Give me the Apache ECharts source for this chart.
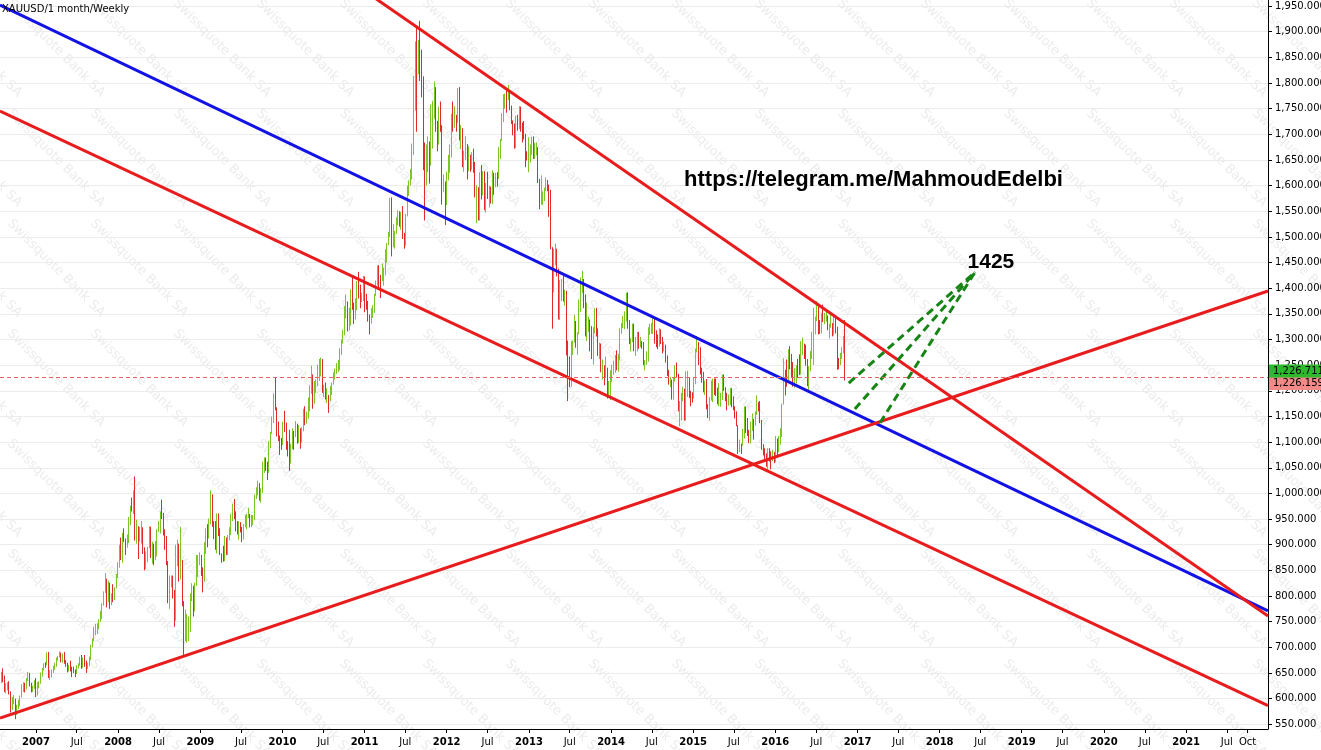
<!DOCTYPE html>
<html>
<head>
<meta charset="utf-8">
<script src="https://cdn.jsdelivr.net/npm/echarts@6/dist/echarts.min.js"></script>
<style>html,body{margin:0;padding:0;background:#fff}#c{width:1321px;height:750px}</style>
</head>
<body>
<div id="c"></div>
<script>
// ---- weekly candles [open, high, low, close]; each year starts at its first Monday ----
const yearStarts = {2006:'2006-07-24',2007:'2007-01-01',2008:'2008-01-07',2009:'2009-01-05',2010:'2010-01-04',2011:'2011-01-03',2012:'2012-01-02',2013:'2013-01-07',2014:'2014-01-06',2015:'2015-01-05',2016:'2016-01-04'};
const w2006 = [[617,640,612,633],[633,652,630,648],[648,659,632,640],[640,645,613,620],[620,630,610,622],[622,632,616,627],[627,634,608,612],[612,614,573,580],[580,603,578,597],[597,607,589,599],[599,600,560,574],[574,588,568,585],[585,598,580,596],[596,606,585,603],[603,628,602,623],[623,632,613,629],[629,631,612,620],[620,640,618,636],[636,652,634,649],[649,650,624,627],[627,631,612,621],[621,625,613,621],[621,636,619,632]];
const w2007 = [[632,640,603,609],[609,632,606,628],[628,634,620,631],[631,651,629,648],[648,660,643,658],[658,669,655,667],[667,671,660,665],[665,690,665,686],[686,691,640,645],[645,656,636,652],[652,657,641,653],[653,664,650,660],[660,670,656,664],[664,680,662,679],[679,683,674,681],[681,692,680,688],[688,690,671,678],[678,688,670,685],[685,691,668,670],[670,675,662,667],[667,670,651,656],[656,666,653,662],[662,674,653,657],[657,662,642,655],[655,662,650,652],[652,657,642,651],[651,665,648,664],[664,669,659,665],[665,682,664,680],[680,685,658,664],[664,680,660,679],[679,685,662,672],[672,674,650,663],[663,670,658,669],[669,682,663,680],[680,705,675,702],[702,717,700,713],[713,740,712,734],[734,746,724,743],[743,747,726,745],[745,755,735,753],[753,771,750,763],[763,786,755,783],[783,809,781,806],[806,845,806,832],[832,834,778,789],[789,830,788,817],[817,826,775,783],[783,805,782,802],[802,823,788,796],[796,817,792,816],[816,843,815,839],[839,866,835,859]];
const w2008 = [[859,900,855,896],[896,914,870,881],[881,923,865,912],[912,932,905,908],[908,912,880,905],[905,920,894,906],[906,954,903,946],[946,976,938,974],[974,992,965,972],[972,1006,960,1000],[1000,1033,908,920],[920,949,902,935],[935,936,872,912],[912,935,906,924],[924,946,902,927],[927,934,882,890],[890,895,850,857],[857,887,853,884],[884,896,866,896],[896,936,893,931],[931,935,874,887],[887,906,863,900],[900,902,860,872],[872,907,870,903],[903,930,877,928],[928,946,925,930],[930,965,922,961],[961,988,950,957],[957,962,918,927],[927,930,890,914],[914,917,860,864],[864,868,786,795],[795,840,775,829],[829,840,817,834],[834,840,795,805],[805,812,740,760],[760,900,752,870],[870,910,858,882],[882,902,828,832],[832,935,832,860],[860,870,780,787],[787,790,681,725],[725,774,712,730],[730,765,709,737],[737,760,712,740],[740,805,730,800],[800,825,790,815],[815,820,760,775],[775,826,770,823],[823,880,820,838],[838,880,837,875],[875,885,860,878]];
const w2009 = [[878,880,839,853],[853,856,807,840],[840,905,828,900],[900,932,882,928],[928,940,895,914],[914,951,912,941],[941,1006,940,996],[996,998,935,943],[943,946,911,940],[940,946,890,929],[929,961,883,953],[953,961,917,923],[923,932,880,881],[881,883,865,871],[871,898,867,868],[868,917,868,912],[912,914,880,884],[884,919,880,913],[913,934,909,929],[929,960,919,958],[958,980,946,978],[978,989,950,958],[958,965,926,934],[934,946,920,926],[926,946,910,939],[939,944,924,929],[929,935,905,913],[913,940,910,937],[937,958,934,952],[952,960,930,956],[956,972,952,956],[956,960,934,946],[946,958,934,953],[953,958,938,955],[955,998,948,995],[995,1012,989,1003],[1003,1025,996,1012],[1012,1020,986,992],[992,1010,982,1004],[1004,1062,1001,1049],[1049,1070,1040,1056],[1056,1070,1044,1055],[1055,1062,1026,1041],[1041,1102,1040,1096],[1096,1120,1088,1118],[1118,1150,1116,1142],[1142,1195,1137,1175],[1175,1227,1162,1166],[1166,1168,1111,1119],[1119,1140,1102,1111],[1111,1113,1075,1105],[1105,1108,1085,1096]];
const w2010 = [[1096,1140,1094,1138],[1138,1161,1120,1130],[1130,1138,1085,1090],[1090,1102,1072,1083],[1083,1124,1044,1065],[1065,1097,1058,1092],[1092,1127,1086,1120],[1120,1122,1085,1117],[1117,1141,1110,1133],[1133,1136,1097,1103],[1103,1133,1098,1124],[1124,1127,1087,1105],[1105,1129,1099,1125],[1125,1165,1121,1161],[1161,1170,1133,1137],[1137,1159,1136,1154],[1154,1187,1146,1180],[1180,1211,1160,1209],[1209,1249,1194,1227],[1227,1232,1165,1177],[1177,1219,1175,1212],[1212,1222,1196,1219],[1219,1251,1209,1222],[1222,1262,1219,1256],[1256,1265,1228,1256],[1256,1262,1196,1210],[1210,1212,1188,1210],[1210,1216,1183,1189],[1189,1205,1176,1190],[1190,1192,1157,1181],[1181,1209,1180,1204],[1204,1216,1192,1215],[1215,1236,1212,1227],[1227,1243,1222,1236],[1236,1254,1233,1246],[1246,1260,1237,1246],[1246,1283,1240,1275],[1275,1300,1270,1296],[1296,1319,1292,1317],[1317,1365,1308,1346],[1346,1388,1341,1372],[1372,1374,1316,1328],[1328,1362,1318,1359],[1359,1398,1327,1393],[1393,1424,1358,1366],[1366,1372,1330,1352],[1352,1380,1339,1363],[1363,1414,1357,1406],[1406,1432,1380,1385],[1385,1407,1361,1379],[1379,1391,1373,1380],[1380,1424,1375,1421]];
const w2011 = [[1421,1423,1353,1369],[1369,1389,1358,1361],[1361,1375,1335,1342],[1342,1349,1310,1341],[1341,1361,1331,1348],[1348,1367,1342,1360],[1360,1389,1352,1388],[1388,1415,1385,1409],[1409,1444,1405,1429],[1429,1445,1400,1421],[1421,1426,1381,1417],[1417,1448,1414,1429],[1429,1440,1405,1430],[1430,1476,1425,1474],[1474,1488,1450,1486],[1486,1510,1484,1504],[1504,1576,1500,1556],[1556,1577,1462,1491],[1491,1525,1480,1492],[1492,1512,1477,1510],[1510,1538,1506,1536],[1536,1552,1522,1542],[1542,1550,1520,1529],[1529,1549,1514,1539],[1539,1560,1496,1501],[1501,1508,1477,1486],[1486,1545,1483,1541],[1541,1600,1540,1600],[1600,1610,1580,1601],[1601,1632,1600,1628],[1628,1682,1612,1663],[1663,1814,1660,1746],[1746,1881,1746,1850],[1850,1912,1705,1828],[1828,1884,1817,1876],[1876,1921,1804,1856],[1856,1865,1772,1811],[1811,1813,1630,1656],[1656,1684,1532,1620],[1620,1680,1600,1635],[1635,1696,1626,1683],[1683,1686,1604,1643],[1643,1758,1639,1747],[1747,1765,1672,1752],[1752,1803,1730,1788],[1788,1792,1705,1725],[1725,1726,1667,1684],[1684,1754,1680,1746],[1746,1764,1705,1712],[1712,1718,1563,1597],[1597,1622,1587,1606],[1606,1608,1523,1565]];
const w2012 = [[1565,1627,1562,1617],[1617,1660,1610,1631],[1631,1680,1625,1664],[1664,1740,1655,1737],[1737,1764,1705,1725],[1725,1755,1713,1725],[1725,1738,1705,1724],[1724,1790,1722,1776],[1776,1792,1688,1710],[1710,1718,1671,1711],[1711,1712,1636,1657],[1657,1668,1627,1662],[1662,1696,1650,1668],[1668,1681,1612,1631],[1631,1677,1628,1658],[1658,1660,1627,1642],[1642,1665,1631,1663],[1663,1672,1625,1644],[1644,1646,1577,1580],[1580,1601,1527,1592],[1592,1597,1532,1573],[1573,1626,1532,1622],[1622,1640,1573,1594],[1594,1628,1581,1625],[1625,1628,1552,1572],[1572,1605,1547,1604],[1604,1627,1574,1579],[1579,1600,1557,1590],[1590,1598,1565,1582],[1582,1630,1564,1618],[1618,1625,1582,1604],[1604,1625,1597,1620],[1620,1626,1598,1616],[1616,1675,1613,1670],[1670,1691,1652,1690],[1690,1741,1687,1738],[1738,1778,1724,1770],[1770,1779,1750,1774],[1774,1788,1742,1773],[1773,1796,1767,1780],[1780,1783,1747,1754],[1754,1756,1720,1724],[1724,1727,1698,1712],[1712,1721,1672,1677],[1677,1736,1673,1731],[1731,1738,1707,1715],[1715,1755,1710,1751],[1751,1754,1705,1712],[1712,1723,1684,1704],[1704,1726,1690,1697],[1697,1701,1636,1657],[1657,1667,1649,1656],[1656,1694,1626,1657]];
const w2013 = [[1657,1680,1645,1667],[1667,1695,1660,1687],[1687,1696,1652,1658],[1658,1683,1652,1667],[1667,1684,1659,1667],[1667,1675,1605,1609],[1609,1613,1554,1572],[1572,1620,1563,1576],[1576,1589,1562,1577],[1577,1596,1570,1592],[1592,1616,1590,1609],[1609,1611,1589,1596],[1596,1602,1539,1581],[1581,1592,1476,1476],[1476,1480,1321,1405],[1405,1477,1392,1462],[1462,1487,1445,1470],[1470,1477,1423,1434],[1434,1438,1339,1359],[1359,1416,1338,1386],[1386,1418,1375,1392],[1392,1424,1374,1384],[1384,1397,1366,1388],[1388,1395,1269,1297],[1297,1298,1180,1234],[1234,1267,1207,1223],[1223,1297,1208,1285],[1285,1298,1270,1296],[1296,1348,1294,1322],[1322,1336,1284,1310],[1310,1314,1270,1312],[1312,1378,1310,1375],[1375,1421,1354,1396],[1396,1434,1391,1396],[1396,1418,1361,1387],[1387,1388,1306,1308],[1308,1372,1297,1333],[1333,1345,1315,1338],[1338,1339,1277,1310],[1310,1326,1262,1272],[1272,1324,1251,1315],[1315,1361,1312,1352],[1352,1362,1306,1313],[1313,1322,1268,1287],[1287,1294,1262,1288],[1288,1292,1236,1243],[1243,1261,1222,1250],[1250,1250,1211,1230],[1230,1267,1227,1235],[1235,1245,1185,1195],[1195,1219,1190,1213],[1213,1240,1182,1237]];
const w2014 = [[1237,1251,1217,1250],[1250,1259,1231,1254],[1254,1270,1235,1264],[1264,1279,1240,1240],[1240,1272,1237,1262],[1262,1322,1259,1318],[1318,1332,1311,1323],[1323,1346,1322,1326],[1326,1355,1320,1339],[1339,1391,1335,1379],[1379,1392,1321,1336],[1336,1338,1291,1294],[1294,1303,1277,1303],[1303,1331,1295,1318],[1318,1331,1277,1293],[1293,1305,1268,1300],[1300,1315,1277,1300],[1300,1315,1282,1289],[1289,1305,1285,1293],[1293,1297,1282,1292],[1292,1295,1250,1251],[1251,1260,1240,1252],[1252,1277,1251,1274],[1274,1324,1257,1316],[1316,1331,1309,1316],[1316,1332,1311,1320],[1320,1345,1311,1338],[1338,1340,1292,1310],[1310,1318,1285,1307],[1307,1310,1281,1293],[1293,1322,1286,1310],[1310,1320,1291,1305],[1305,1305,1273,1280],[1280,1296,1277,1287],[1287,1290,1255,1268],[1268,1269,1229,1230],[1230,1241,1212,1216],[1216,1227,1207,1218],[1218,1222,1183,1192],[1192,1226,1183,1222],[1222,1250,1218,1238],[1238,1255,1226,1231],[1231,1233,1160,1171],[1171,1180,1131,1178],[1178,1196,1142,1190],[1190,1208,1180,1197],[1197,1204,1142,1175],[1175,1238,1142,1191],[1191,1239,1188,1222],[1222,1225,1186,1196],[1196,1200,1170,1195],[1195,1197,1177,1189]];
const w2015 = [[1189,1226,1185,1216],[1216,1282,1213,1277],[1277,1307,1275,1293],[1293,1295,1250,1279],[1279,1285,1232,1233],[1233,1245,1216,1228],[1228,1237,1197,1205],[1205,1220,1192,1213],[1213,1223,1164,1167],[1167,1174,1147,1152],[1152,1188,1142,1184],[1184,1220,1181,1199],[1199,1224,1178,1210],[1210,1224,1192,1207],[1207,1224,1190,1204],[1204,1206,1174,1178],[1178,1215,1170,1179],[1179,1196,1169,1189],[1189,1232,1182,1225],[1225,1232,1200,1205],[1205,1207,1180,1191],[1191,1196,1162,1173],[1173,1193,1171,1181],[1181,1205,1172,1200],[1200,1205,1168,1174],[1174,1189,1162,1168],[1168,1170,1146,1157],[1157,1160,1131,1132],[1132,1133,1077,1085],[1085,1105,1080,1094],[1094,1097,1077,1093],[1093,1126,1093,1113],[1113,1170,1107,1160],[1160,1169,1118,1134],[1134,1147,1112,1121],[1121,1124,1098,1108],[1108,1140,1097,1138],[1138,1156,1122,1145],[1145,1145,1105,1137],[1137,1160,1132,1156],[1156,1191,1153,1177],[1177,1178,1160,1163],[1163,1180,1137,1142],[1142,1143,1085,1088],[1088,1096,1074,1081],[1081,1088,1062,1076],[1076,1078,1052,1057],[1057,1088,1046,1085],[1085,1088,1062,1075],[1075,1082,1047,1066],[1066,1085,1063,1076],[1076,1081,1059,1061]];
const w2016 = [[1061,1112,1061,1104],[1104,1107,1072,1089],[1089,1112,1080,1097],[1097,1127,1095,1117],[1117,1175,1110,1174],[1174,1263,1173,1239],[1239,1241,1191,1226],[1226,1261,1208,1222],[1222,1281,1216,1260],[1260,1287,1242,1259],[1259,1272,1226,1254],[1254,1256,1208,1217],[1217,1244,1206,1222],[1222,1250,1214,1243],[1243,1262,1225,1235],[1235,1271,1231,1233],[1233,1297,1232,1290],[1290,1304,1270,1290],[1290,1292,1262,1273],[1273,1290,1249,1252],[1252,1262,1209,1216],[1216,1248,1199,1243],[1243,1278,1238,1275],[1275,1315,1262,1298],[1298,1362,1250,1316],[1316,1345,1310,1340],[1340,1375,1336,1366],[1366,1370,1310,1328],[1328,1338,1311,1322],[1322,1352,1312,1350],[1350,1368,1334,1336],[1336,1352,1330,1336],[1336,1358,1335,1341],[1341,1347,1318,1321],[1321,1331,1302,1327],[1327,1352,1323,1328],[1328,1332,1306,1310],[1310,1344,1308,1338],[1338,1345,1312,1317],[1317,1325,1241,1257],[1257,1264,1242,1252],[1252,1274,1250,1266],[1266,1285,1262,1276],[1276,1307,1273,1304],[1304,1338,1220,1227]];
const weeklyByYear = {2006:w2006,2007:w2007,2008:w2008,2009:w2009,2010:w2010,2011:w2011,2012:w2012,2013:w2013,2014:w2014,2015:w2015,2016:w2016};

// ---- current quotes ----
const askPrice = 1226.711;
const bidPrice = 1226.159;

// ---- drawn trend lines [date, price] ----
const blueTrend = [['2006-07-25', 1952], ['2021-12-31', 771]];
const redUpper = [['2010-10-27', 1999.6], ['2021-12-31', 761]];
const redLower = [['2006-07-25', 1745.4], ['2021-12-31', 586.2]];
const redRising = [['2006-07-25', 562.2], ['2021-12-31', 1394.5]];
const greenA = [['2016-11-23', 1215.2], ['2018-06-08', 1431.6]];
const greenB = [['2016-12-20', 1164.5], ['2018-06-08', 1431.6]];
const greenC = [['2017-04-11', 1137.8], ['2018-06-08', 1431.6]];
const targetLabel = {date: '2018-08-17', price: 1451, text: '1425'};

// ---- axes ----
const xRange = ['2006-07-25', '2021-12-31'];
const yRange = [540.8, 1961.8];
const xTickDates = ['2007-01-01','2007-07-01','2008-01-01','2008-07-01','2009-01-01','2009-07-01','2010-01-01','2010-07-01','2011-01-01','2011-07-01','2012-01-01','2012-07-01','2013-01-01','2013-07-01','2014-01-01','2014-07-01','2015-01-01','2015-07-01','2016-01-01','2016-07-01','2017-01-01','2017-07-01','2018-01-01','2018-07-01','2019-01-01','2019-07-01','2020-01-01','2020-07-01','2021-01-01','2021-07-01','2021-10-01'];
const yTickValues = [550,600,650,700,750,800,850,900,950,1000,1050,1100,1150,1200,1250,1300,1350,1400,1450,1500,1550,1600,1650,1700,1750,1800,1850,1900,1950];

function ts(s){ const p = s.split('-').map(Number); return Date.UTC(p[0], p[1]-1, p[2]); }
function fmt3(v, dec){ const s = v.toFixed(dec); const parts = s.split('.'); return parts[0].replace(/\B(?=(\d{3})+(?!\d))/g, ',') + '.' + parts[1]; }

const candles = [];
Object.keys(weeklyByYear).forEach(function(y){
  const base = ts(yearStarts[y]);
  weeklyByYear[y].forEach(function(r, i){
    candles.push([base + i*7*86400000, r[0], r[3], r[2], r[1]]);
  });
});
const toPts = arr => arr.map(p => [ts(p[0]), p[1]]);

const chart = echarts.init(document.getElementById('c'), null, {renderer: 'canvas'});

const watermark = [];
for (let i = -14; i <= 4; i++) {
  for (let j = -5; j <= 3; j++) {
    const x = 1010 + 83*i, y = 437 + 110*j;
    if (x < -140 || x > 1321 || y < -110 || y > 750) continue;
    watermark.push({type:'text', x:x, y:y, rotation:-Math.PI/4, silent:true, z:-10,
      style:{text:'Swissquote Bank SA', fill:'#ececec', font:'13px "DejaVu Sans"'}});
  }
}

const lineSeries = (data, color, extra) => Object.assign({
  type:'line', data: toPts(data), symbol:'none', silent:true, animation:false,
  lineStyle:{color:color, width:3}, z:4
}, extra || {});

const xTickTs = xTickDates.map(ts);
const tagLabel = (price, bg, dy) => ({show: true, position: 'end', distance: 1, formatter: () => fmt3(price, 3), color: '#000',
  backgroundColor: bg, padding: [2, 8, 1, 4], fontFamily: 'DejaVu Sans', fontSize: 10, offset: [0, dy]});

const option = {
  animation: false,
  backgroundColor: '#fff',
  grid: {left: 0, right: 53, top: 0, bottom: 21, outerBoundsMode: 'none', containLabel: false},
  xAxis: {
    type: 'value', min: ts(xRange[0]), max: ts(xRange[1]),
    axisLine: {show: true, lineStyle: {color: '#000', width: 1}},
    axisTick: {show: true, length: 4, lineStyle: {color: '#000'}, customValues: xTickTs},
    splitLine: {show: false},
    axisLabel: {
      customValues: xTickTs, margin: 8, showMinLabel: true, showMaxLabel: true, hideOverlap: false,
      fontFamily: 'DejaVu Sans', fontSize: 10, color: '#000',
      formatter: function(v){
        const d = new Date(v); const m = d.getUTCMonth();
        if (m === 0) return '{yr|' + d.getUTCFullYear() + '}';
        return m === 6 ? 'Jul' : 'Oct';
      },
      rich: {yr: {fontWeight: 'bold', fontFamily: 'DejaVu Sans', fontSize: 10, color: '#000'}}
    }
  },
  yAxis: {
    type: 'value', position: 'right', min: yRange[0], max: yRange[1], scale: true,
    axisLine: {show: true, lineStyle: {color: '#000', width: 1}},
    axisTick: {show: true, length: 4, lineStyle: {color: '#000'}, customValues: yTickValues},
    splitLine: {show: true, lineStyle: {color: '#ececec', width: 1}},
    axisLabel: {customValues: yTickValues, margin: 7, fontFamily: 'DejaVu Sans', fontSize: 10, color: '#000',
      formatter: v => fmt3(v, 3)}
  },
  graphic: watermark.concat([
    {type:'text', x:2, y:4, z:100, silent:true, style:{text:'XAUUSD/1 month/Weekly', font:'10px "DejaVu Sans"', fill:'#000'}},
    {type:'text', x:873.5, y:180, z:100, silent:true, style:{text:'https://telegram.me/MahmoudEdelbi', font:'bold 22px "Liberation Sans"', fill:'#000', align:'center', verticalAlign:'middle'}}
  ]),
  series: [
    {
      type: 'candlestick', data: candles, barWidth: 1.2, z: 3, silent: true,
      itemStyle: {color:'#7cc623', color0:'#e12a2a', borderColor:'#7cc623', borderColor0:'#e12a2a', borderWidth: 1},
      markLine: {
        silent: true, symbol: ['none','none'], animation: false,
        lineStyle: {color: '#e46464', width: 1, type: [4, 3], opacity: 1},
        data: [{yAxis: bidPrice, label: tagLabel(bidPrice, '#f28a8a', 6)}]
      }
    },
    lineSeries(blueTrend, '#1212e6', {
      markLine: {
        silent: true, symbol: ['none','none'], animation: false,
        lineStyle: {color: 'rgba(255,255,255,0)', width: 1, type: 'solid'},
        data: [{yAxis: askPrice, label: tagLabel(askPrice, '#2db82d', -6)}]
      }
    }),
    lineSeries(redUpper, '#e81c1c'),
    lineSeries(redLower, '#e81c1c'),
    lineSeries(redRising, '#e81c1c'),
    lineSeries(greenA, '#168516', {lineStyle:{color:'#168516', width:3, type:[8,5]}}),
    lineSeries(greenB, '#168516', {lineStyle:{color:'#168516', width:3, type:[8,5]}}),
    lineSeries(greenC, '#168516', {lineStyle:{color:'#168516', width:3, type:[8,5]},
      markPoint: {silent: true, symbol: 'circle', symbolSize: 1, itemStyle: {color: 'rgba(0,0,0,0)'},
        label: {show: true, position: 'inside', formatter: targetLabel.text, color: '#000', fontWeight: 'bold', fontSize: 21, fontFamily: 'Liberation Sans'},
        data: [{coord: [ts(targetLabel.date), targetLabel.price]}]}})
  ]
};
chart.setOption(option);
</script>
</body>
</html>
